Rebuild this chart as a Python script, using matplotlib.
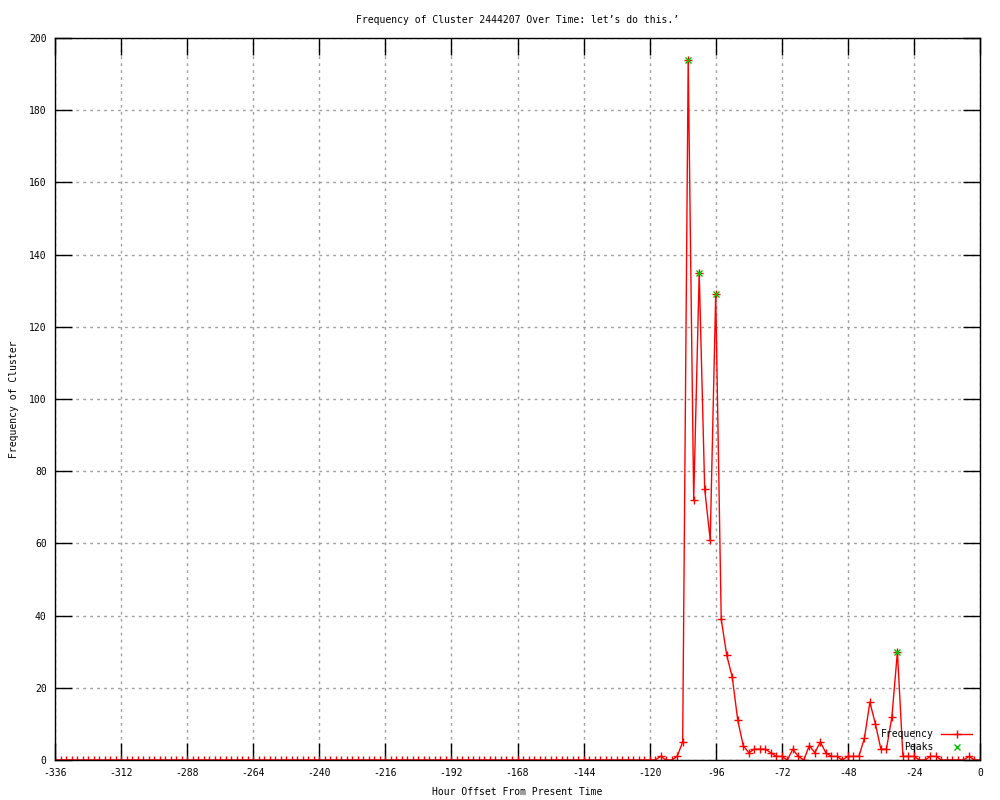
import numpy as np
import matplotlib
matplotlib.use("Agg")
import matplotlib.pyplot as plt

plt.rcParams['font.family'] = ['DejaVu Sans Mono']
plt.rcParams['axes.unicode_minus'] = False

# hour offsets (every 2 hours from -336 to 0)
hours = list(range(-336, 1, 2))

frequency = [
    0, 0, 0, 0, 0, 0, 0, 0, 0, 0,   # -336 .. -318
    0, 0, 0, 0, 0, 0, 0, 0, 0, 0,   # -316 .. -298
    0, 0, 0, 0, 0, 0, 0, 0, 0, 0,   # -296 .. -278
    0, 0, 0, 0, 0, 0, 0, 0, 0, 0,   # -276 .. -258
    0, 0, 0, 0, 0, 0, 0, 0, 0, 0,   # -256 .. -238
    0, 0, 0, 0, 0, 0, 0, 0, 0, 0,   # -236 .. -218
    0, 0, 0, 0, 0, 0, 0, 0, 0, 0,   # -216 .. -198
    0, 0, 0, 0, 0, 0, 0, 0, 0, 0,   # -196 .. -178
    0, 0, 0, 0, 0, 0, 0, 0, 0, 0,   # -176 .. -158
    0, 0, 0, 0, 0, 0, 0, 0, 0, 0,   # -156 .. -138
    0, 0, 0, 0, 0, 0, 0, 0, 0, 0,   # -136 .. -118
    1, 0, 0, 1, 5, 194, 72, 135, 75, 61,   # -116 .. -98
    129, 39, 29, 23, 11, 4, 2, 3, 3, 3,    # -96 .. -78
    2, 1, 1, 0, 3, 1, 0, 4, 2, 5,          # -76 .. -58
    2, 1, 1, 0, 1, 1, 1, 6, 16, 10,        # -56 .. -38
    3, 3, 12, 30, 1, 1, 1, 0, 0, 1,        # -36 .. -18
    1, 0, 0, 0, 0, 0, 1, 0, 0,             # -16 .. 0
]

peak_hours = [-106, -102, -96, -30]
peak_values = [194, 135, 129, 30]

title = "Frequency of Cluster 2444207 Over Time: let\u2019s do this.\u2019"
xlabel = "Hour Offset From Present Time"
ylabel = "Frequency of Cluster"
xticks = list(range(-336, 1, 24))
yticks = list(range(0, 201, 20))

fig = plt.figure(figsize=(10, 8), dpi=100)
ax = fig.add_axes([0.055, 0.05, 0.925, 0.9025])

ax.plot(hours, frequency, color='#ff0000', lw=1.0, marker='+', ms=6,
        mew=1.0, label='Frequency', zorder=3)
ax.plot(peak_hours, peak_values, linestyle='none', marker='x', ms=5,
        mew=1.0, color='#00c000', label='Peaks', zorder=4)

ax.set_xlim(-336, 0)
ax.set_ylim(0, 200)
ax.set_xticks(xticks)
ax.set_xticklabels([str(v) for v in xticks])
ax.set_yticks(yticks)
ax.set_yticklabels([str(v) for v in yticks])

ax.grid(True, color='#a0a0a0', linestyle=(0, (2, 3)), lw=1.0)
ax.set_axisbelow(True)
ax.tick_params(direction='in', length=12, width=1, top=True, right=True,
               labelsize=7, pad=6)
for sp in ax.spines.values():
    sp.set_linewidth(1.0)
    sp.set_color('black')
    sp.set_zorder(5)

ax.set_title(title, fontsize=7, pad=11)
ax.set_xlabel(xlabel, fontsize=7, labelpad=6)
ax.set_ylabel(ylabel, fontsize=7, labelpad=7)

leg = ax.legend(loc='lower right', frameon=False, markerfirst=False,
                fontsize=7, handlelength=3.2, handletextpad=0.8,
                labelspacing=0.3, borderaxespad=0.4)

fig.savefig('out.png', dpi=100)
